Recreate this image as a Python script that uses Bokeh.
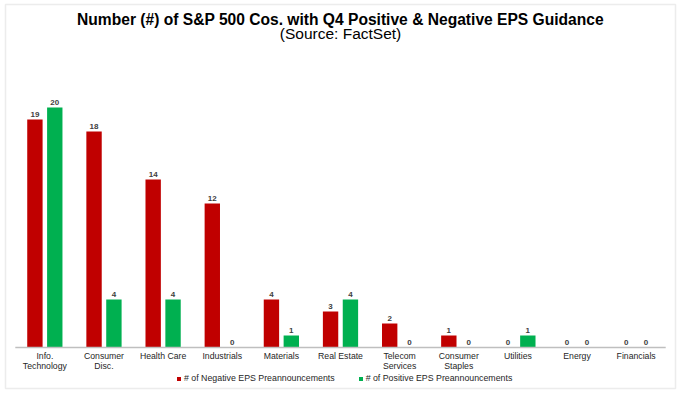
from bokeh.plotting import figure
from bokeh.models import (ColumnDataSource, Label, Legend, LegendItem, FactorRange,
                          Range1d, BoxAnnotation)
from bokeh.transform import dodge
from bokeh.core.properties import value
from bokeh.embed import file_html
from bokeh.resources import INLINE

categories = ["Info.\nTechnology", "Consumer\nDisc.", "Health Care", "Industrials",
              "Materials", "Real Estate", "Telecom\nServices", "Consumer\nStaples",
              "Utilities", "Energy", "Financials"]
negative = [19, 18, 14, 12, 4, 3, 2, 1, 0, 0, 0]
positive = [20, 4, 4, 0, 1, 4, 0, 0, 1, 0, 0]

TITLE = "Number (#) of S&P 500 Cos. with Q4 Positive & Negative EPS Guidance"
SUBTITLE = "(Source: FactSet)"
NEG_LABEL = "# of Negative EPS Preannouncements"
POS_LABEL = "# of Positive EPS Preannouncements"

RED = "#c00000"
GREEN = "#00b050"
FONT = "Liberation Sans"
N = len(categories)

src = ColumnDataSource(dict(
    cat=categories,
    neg=negative,
    pos=positive,
    neg_t=[str(v) for v in negative],
    pos_t=[str(v) for v in positive],
))

p = figure(width=680, height=392,
           x_range=FactorRange(*categories, range_padding=0.25,
                               range_padding_units="absolute"),
           y_range=Range1d(-45 / 12, 347 / 12), output_backend="svg",
           toolbar_location=None, x_axis_location=None, y_axis_location=None,
           min_border_left=0, min_border_right=0, min_border_top=0,
           min_border_bottom=0)
p.xgrid.grid_line_color = None
p.ygrid.grid_line_color = None
p.outline_line_color = None

# chart border
p.add_layout(BoxAnnotation(left=5, right=675, bottom=4, top=388,
                           left_units="screen", right_units="screen",
                           bottom_units="screen", top_units="screen",
                           fill_alpha=0, line_color="#bfbfbf", line_width=1.5))

r_neg = p.vbar(x=dodge("cat", -0.168, range=p.x_range), top="neg", width=0.26,
               source=src, fill_color=RED, line_color=None)
r_pos = p.vbar(x=dodge("cat", 0.168, range=p.x_range), top="pos", width=0.26,
               source=src, fill_color=GREEN, line_color=None)

# value labels
p.text(x=dodge("cat", -0.168, range=p.x_range), y="neg", text="neg_t", source=src,
       text_align="center", text_baseline="bottom", y_offset=-3,
       text_font=value(FONT), text_font_size="8px", text_font_style="bold",
       text_color="#404040")
p.text(x=dodge("cat", 0.168, range=p.x_range), y="pos", text="pos_t", source=src,
       text_align="center", text_baseline="bottom", y_offset=-3,
       text_font=value(FONT), text_font_size="8px", text_font_style="bold",
       text_color="#404040")

# category axis line across the category band
p.segment(x0=0, x1=N, y0=0, y1=0, line_color="#bfbfbf", line_width=1.5)

# category labels
p.text(x="cat", y=0, text="cat", source=src, text_align="center", text_baseline="top",
       y_offset=3.5, text_font=value(FONT), text_font_size="8.7px",
       text_line_height=0.98, text_color="#262626")

# titles
p.add_layout(Label(x=N / 2, y=27.375, text=TITLE, text_align="center",
                   text_baseline="middle", text_font=FONT, text_font_size="15.6px",
                   text_font_style="bold", text_color="#000000"))
p.add_layout(Label(x=N / 2, y=26.2, text=SUBTITLE, text_align="center",
                   text_baseline="middle", text_font=FONT, text_font_size="15.5px",
                   text_color="#000000"))

legend = Legend(items=[LegendItem(label=NEG_LABEL, renderers=[r_neg]),
                       LegendItem(label=POS_LABEL, renderers=[r_pos])],
                orientation="horizontal", location=(176, 9),
                label_text_font=FONT, label_text_font_size="8.8px",
                label_text_color="#262626", label_height=10,
                glyph_width=5, glyph_height=5, label_standoff=3, spacing=23,
                padding=0, margin=0, border_line_color=None, background_fill_alpha=0)
p.add_layout(legend, "center")

open("out.html", "w").write(file_html(p, INLINE))
